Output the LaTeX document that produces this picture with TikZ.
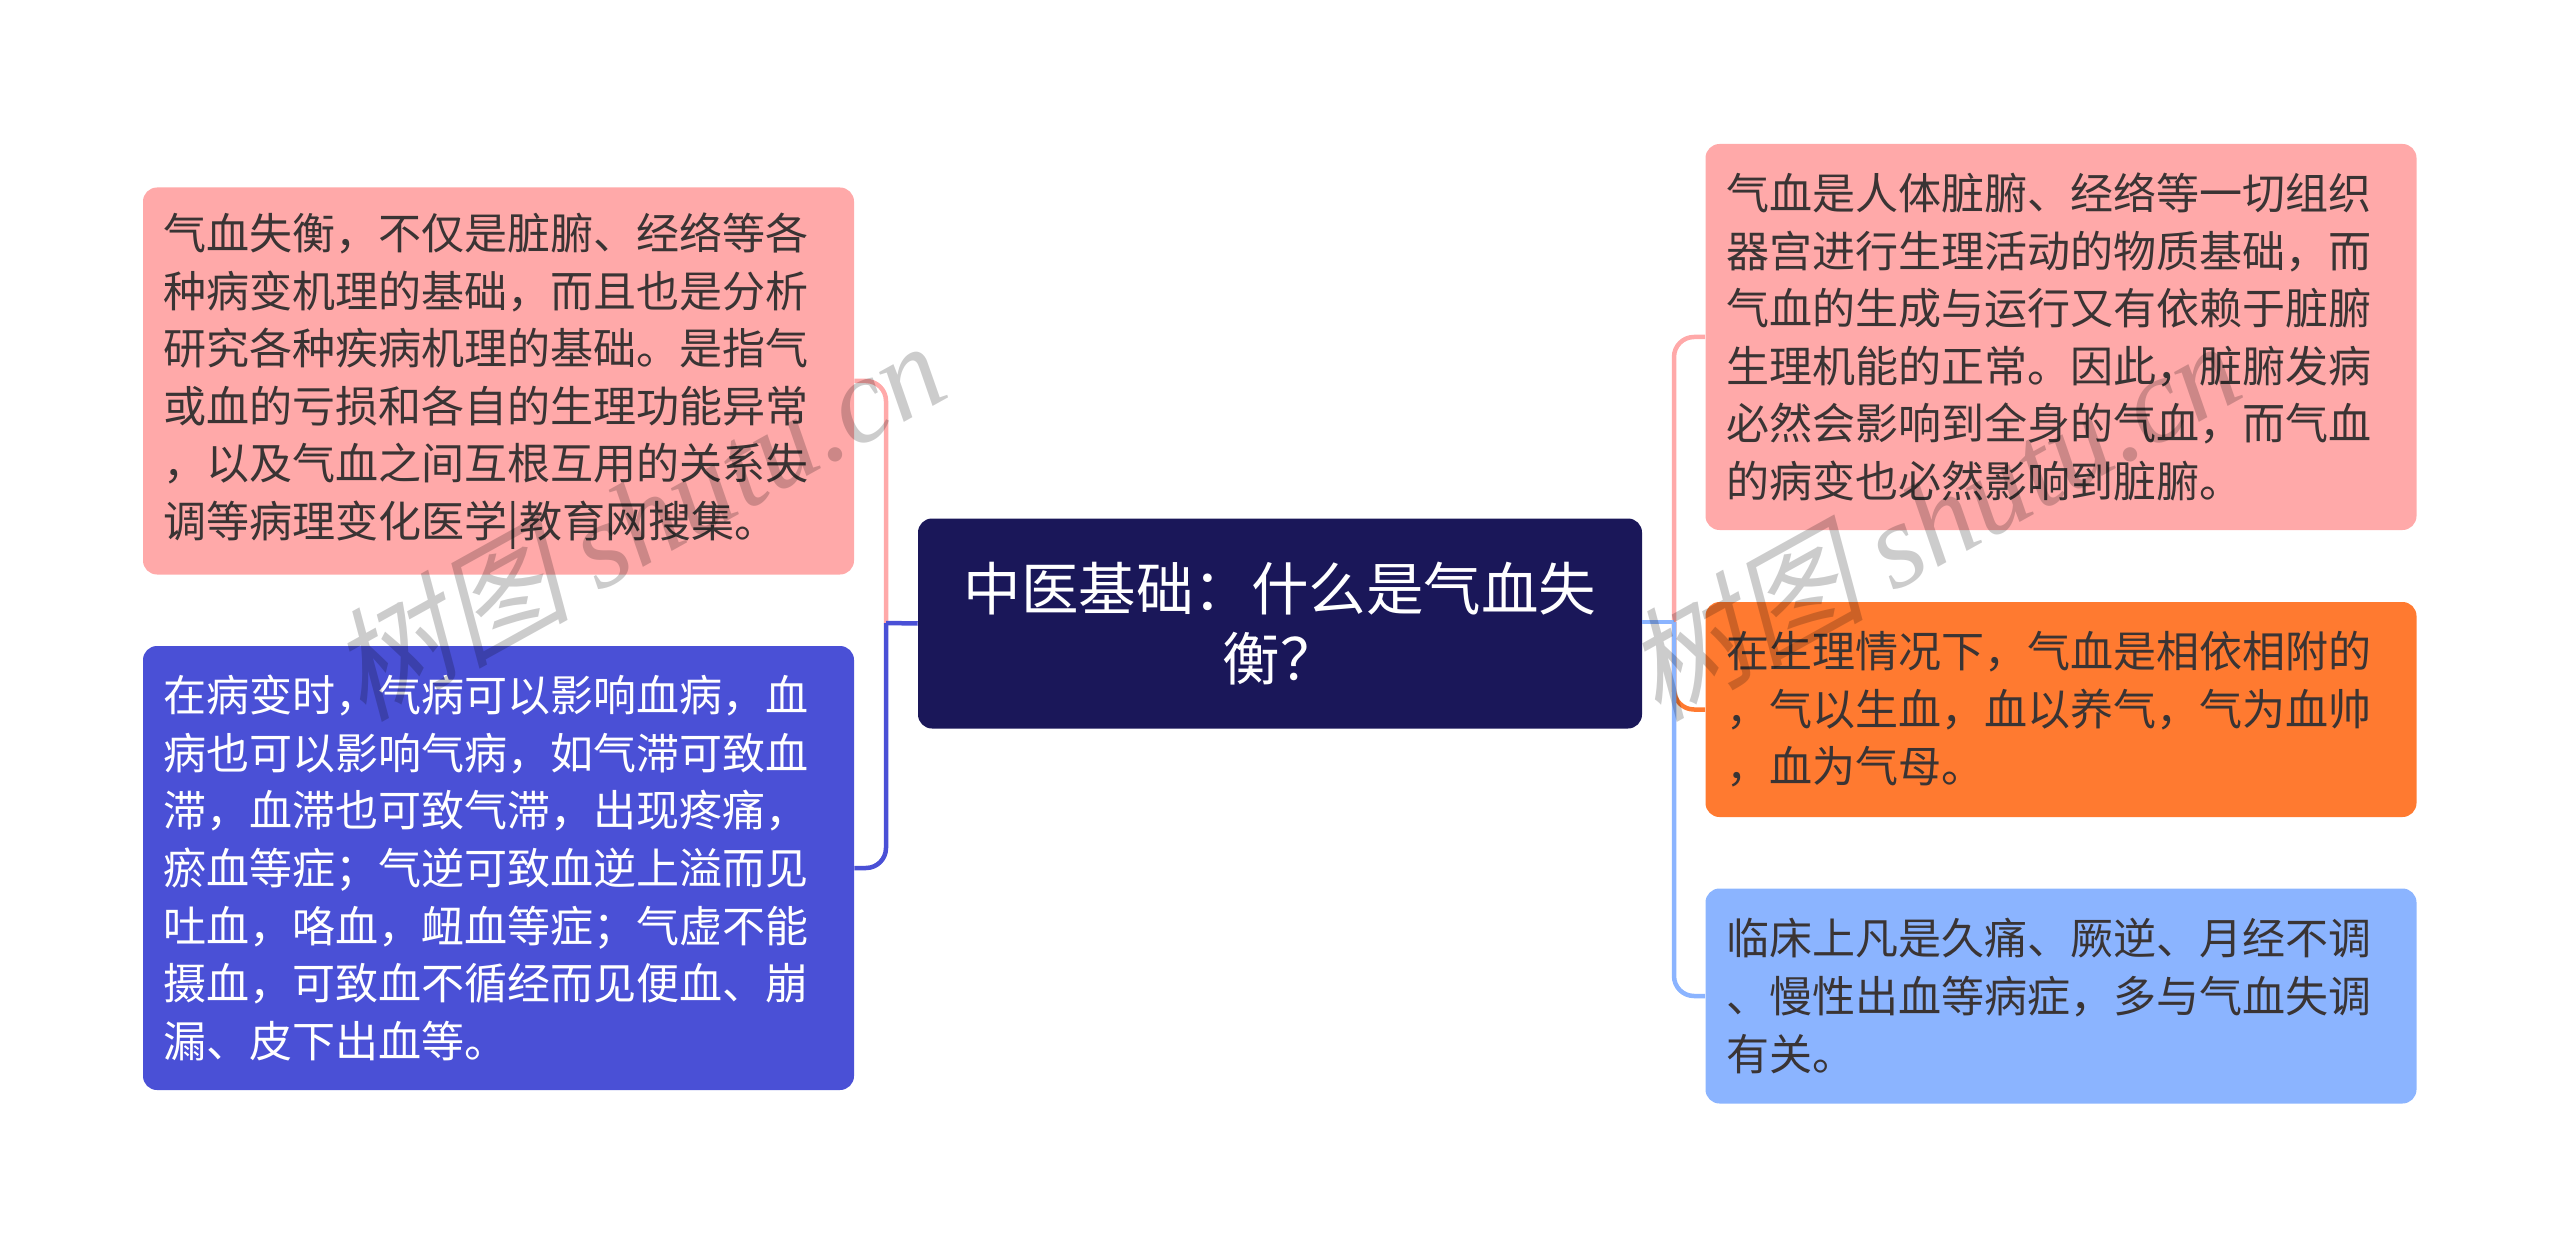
\documentclass[tikz,border=0pt]{standalone}
\usepackage{fontspec}
\setmainfont{Noto Sans CJK SC}
\newfontfamily\cjkslant[FakeSlant=0.25]{Noto Sans CJK SC}
\newfontfamily\latinslant[ItalicFont={Liberation Serif Italic}]{Liberation Serif}

\definecolor{cPink}{HTML}{FFA9A9}
\definecolor{cOrange}{HTML}{FF7A30}
\definecolor{cSky}{HTML}{8BB4FF}
\definecolor{cIndigo}{HTML}{4A50D6}
\definecolor{cNavy}{HTML}{1A1759}
\definecolor{cInk}{HTML}{3A3434}

\def\dU{0.025cm}

\tikzset{
    leaf/.style={shape=rectangle, rounded corners=14*\dU, inner xsep=20.5*\dU, inner ysep=0pt,
        text width=670*\dU, minimum height=#1*\dU, align=left, text=cInk,
        font=\fontsize{30.6pt}{40.9pt}\selectfont},
    root/.style={shape=rectangle, rounded corners=14*\dU, fill=cNavy, text=white, inner sep=0pt,
        text width=724*\dU, minimum height=210*\dU, align=center,
        font=\fontsize{40.9pt}{50pt}\selectfont},
    link/.style={line width=4.5*\dU, rounded corners=20*\dU},
    stamp/.style={rotate=29, text=black, opacity=0.2, inner sep=0pt},
}

\begin{document}
\begin{tikzpicture}[x=\dU, y=-\dU]
    \useasboundingbox (0,0) rectangle (2560,1247);

    %%   centre and side nodes
    \node[root] (Root) at (1280, 623.5) {中医基础：什么是气血失\\衡？};

    \node[leaf=387, fill=cPink] (L1) at (498.5, 381) {气血失衡，不仅是脏腑、经络等各\\种病变机理的基础，而且也是分析\\研究各种疾病机理的基础。是指气\\或血的亏损和各自的生理功能异常\\，以及气血之间互根互用的关系失\\调等病理变化医学|教育网搜集。};
    \node[leaf=444, fill=cIndigo, text=white] (L2) at (498.5, 868) {在病变时，气病可以影响血病，血\\病也可以影响气病，如气滞可致血\\滞，血滞也可致气滞，出现疼痛，\\瘀血等症；气逆可致血逆上溢而见\\吐血，咯血，衄血等症；气虚不能\\摄血，可致血不循经而见便血、崩\\漏、皮下出血等。};

    \node[leaf=386, fill=cPink] (R1) at (2061, 337) {气血是人体脏腑、经络等一切组织\\器宫进行生理活动的物质基础，而\\气血的生成与运行又有依赖于脏腑\\生理机能的正常。因此，脏腑发病\\必然会影响到全身的气血，而气血\\的病变也必然影响到脏腑。};
    \node[leaf=215, fill=cOrange] (R2) at (2061, 709.5) {在生理情况下，气血是相依相附的\\，气以生血，血以养气，气为血帅\\，血为气母。};
    \node[leaf=215, fill=cSky] (R3) at (2061, 996) {临床上凡是久痛、厥逆、月经不调\\、慢性出血等病症，多与气血失调\\有关。};

    %%   elbows of the two trunks
    \coordinate (JL) at (886, 623);
    \coordinate (JR) at (1674, 622);

    \draw[link, draw=cPink]   (JL) |- (L1.east);
    \draw[link, draw=cIndigo] (JL) |- (L2.east);
    \draw[line width=4.5*\dU, draw=cIndigo] (Root.west) -- (JL);

    \draw[link, draw=cPink]   (JR) |- (R1.west);
    \draw[link, draw=cOrange] (JR) |- (R2.west);
    \draw[link, draw=cSky]    (JR) |- (R3.west);
    \draw[line width=4.5*\dU, draw=cSky] (Root.east |- JR) -- (JR);

    %%   watermarks
    \node[stamp] (M1) at (636, 519) {\fontsize{86pt}{86pt}\selectfont{\cjkslant 树图} {\latinslant\itshape shutu.cn}};
    \node[stamp] (M2) at (1931, 519) {\fontsize{86pt}{86pt}\selectfont{\cjkslant 树图} {\latinslant\itshape shutu.cn}};
\end{tikzpicture}
\end{document}
